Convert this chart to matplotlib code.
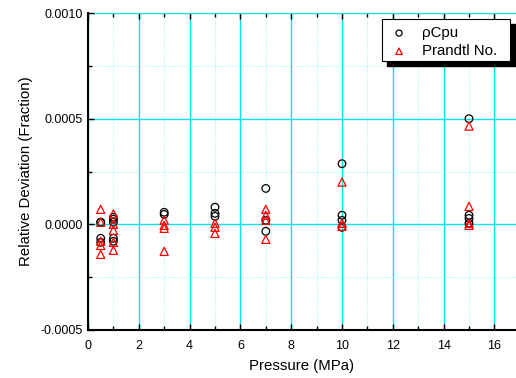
import matplotlib.pyplot as plt
from matplotlib.patches import Rectangle

plt.rcParams['font.family'] = ['Liberation Sans', 'DejaVu Sans']

# DATA ------------------------------------------------------
# rho*Cp*u relative deviation
x_rcpu = [0.5, 0.5, 0.5, 0.5,
          1, 1, 1, 1, 1,
          3, 3,
          5, 5, 5,
          7, 7, 7,
          10, 10, 10, 10,
          15, 15, 15, 15]
y_rcpu = [0.00001, -0.000066, -0.000085, 0.00001,
          0.000033, 0.000024, 0.00001, -0.000066, -0.00008,
          0.000057, 0.000047,
          0.000081, 0.000052, 0.000038,
          0.00017, 0.000019, -0.000033,
          0.000287, 0.000043, 0.000019, -0.000014,
          0.0005, 0.000043, 0.000028, 0.000005]

# Prandtl number relative deviation
x_pr = [0.5, 0.5, 0.5, 0.5, 0.5,
        1, 1, 1, 1, 1,
        3, 3, 3, 3,
        5, 5, 5,
        7, 7, 7, 7,
        10, 10, 10,
        15, 15, 15, 15]
y_pr = [0.000071, 0.00001, -0.00008, -0.0001, -0.000142,
        0.00005, 0.0, -0.000028, -0.000085, -0.000123,
        0.00002, -0.000005, -0.000019, -0.000128,
        0.000005, -0.000014, -0.000043,
        0.000071, 0.000043, 0.000019, -0.000071,
        0.0002, 0.000005, -0.000009,
        0.000465, 0.000085, 0.000005, -0.000005]

# Graph ---------------------------------------------------
W, H = 516, 378
fig = plt.figure(figsize=(W / 100, H / 100), dpi=100)
ax = fig.add_axes([88 / W, 48 / H, 1 - 88 / W, 317 / H])

ax.set_xlim(0, 16.85)
ax.set_ylim(-0.0005, 0.0010)

# grid: major solid cyan, minor dotted cyan
ax.set_xticks(range(0, 17, 2))
ax.set_xticks(range(1, 17, 2), minor=True)
ax.set_yticks([-0.0005, 0.0, 0.0005, 0.0010])
ax.set_yticks([-0.00025, 0.00025, 0.00075], minor=True)
ax.set_yticklabels(["-0.0005", "0.0000", "0.0005", "0.0010"])
ax.grid(which="major", color="#00e5ee", linewidth=1.0, linestyle="-")
ax.grid(which="minor", color="#7ff5f5", linewidth=0.6, linestyle=":")
ax.set_axisbelow(True)

ax.scatter(x_rcpu, y_rcpu, marker="o", s=30, facecolors="none",
           edgecolors="black", linewidths=0.9, label="ρCpu", zorder=3)
ax.scatter(x_pr, y_pr, marker="^", s=34, facecolors="none",
           edgecolors="red", linewidths=0.9, label="Prandtl No.", zorder=3)

for side in ["top", "right"]:
    ax.spines[side].set_visible(False)
for side in ["left", "bottom"]:
    ax.spines[side].set_linewidth(1.5)

ax.tick_params(which="both", direction="in", top=True, labelsize=9,
               color="black")
ax.tick_params(axis="x", pad=7)
ax.tick_params(which="major", length=4, width=1)
ax.tick_params(which="minor", length=3, width=1)

ax.set_xlabel("Pressure (MPa)", fontsize=10.8, labelpad=5)
ax.set_ylabel("Relative Deviation (Fraction)", fontsize=10.8, labelpad=6)

# legend box with solid black drop shadow
bx0, bx1, by0, by1 = 382, 510, 19, 61
shadow = Rectangle((bx0 + 5, H - by1 - 5), bx1 - bx0, by1 - by0,
                   transform=None, facecolor="black", edgecolor="black",
                   zorder=6, clip_on=False)
frame = Rectangle((bx0, H - by1), bx1 - bx0, by1 - by0,
                  transform=None, facecolor="white", edgecolor="black",
                  linewidth=0.8, zorder=7, clip_on=False)
fig.patches.extend([shadow, frame])

leg = fig.legend(*ax.get_legend_handles_labels(), loc="upper left",
                 bbox_to_anchor=(394 / W, 1 - 26 / H),
                 fontsize=10.8, frameon=False, markerscale=0.8,
                 handletextpad=1.2, borderpad=0, labelspacing=0.28,
                 handlelength=0.67, borderaxespad=0)
leg.set_zorder(8)

plt.savefig("out.png", dpi=100)
